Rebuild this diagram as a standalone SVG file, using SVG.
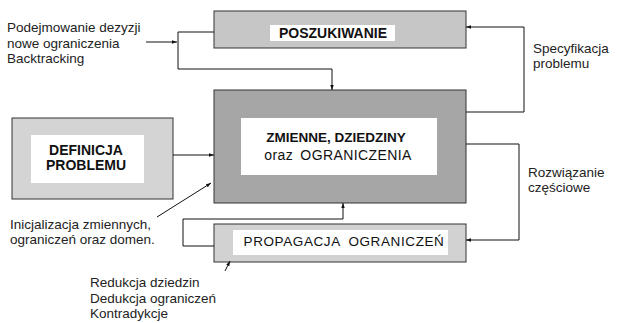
<svg xmlns="http://www.w3.org/2000/svg" width="618" height="323" viewBox="0 0 618 323">
<defs>
<marker id="ah" viewBox="0 0 10 10" refX="10" refY="5" markerWidth="5" markerHeight="5" orient="auto" markerUnits="userSpaceOnUse">
<path d="M0,1.5 L10,5 L0,8.5 Z" fill="#111"/>
</marker>
<style>
.box{stroke:#333;stroke-width:1}
.inner{fill:#fff;stroke:none}
.lbl{font-family:"Liberation Sans",Arial,sans-serif;fill:#111}
.t{font-family:"Liberation Sans",Arial,sans-serif;font-size:13.5px;fill:#222}
.c{fill:none;stroke:#111;stroke-width:1}
</style>
</defs>
<rect width="618" height="323" fill="#fff"/>

<g id="poszukiwanie">
<rect class="box" x="214" y="11" width="252" height="37" fill="#c6c6c6"/>
<rect class="inner" x="270" y="25" width="125" height="16"/>
<text class="lbl" x="333" y="37.5" text-anchor="middle" font-size="14" font-weight="bold">POSZUKIWANIE</text>
</g>

<g id="zmienne">
<rect class="box" x="214" y="90" width="252" height="113" fill="#a6a6a6"/>
<rect class="inner" x="241" y="118" width="196" height="57"/>
<text class="lbl" x="336" y="142" text-anchor="middle" font-size="13.5" font-weight="bold">ZMIENNE, DZIEDZINY</text>
<text class="lbl" x="338" y="159.5" text-anchor="middle" font-size="14" letter-spacing="0.4" word-spacing="3">oraz OGRANICZENIA</text>
</g>

<g id="definicja">
<rect class="box" x="12" y="118" width="161" height="81" fill="#d4d4d4"/>
<rect class="inner" x="31" y="135" width="113" height="48"/>
<text class="lbl" x="86" y="155" text-anchor="middle" font-size="14" font-weight="bold">DEFINICJA</text>
<text class="lbl" x="86" y="169.5" text-anchor="middle" font-size="14" font-weight="bold">PROBLEMU</text>
</g>

<g id="propagacja">
<rect class="box" x="214" y="224" width="252" height="38" fill="#d2d2d2"/>
<rect class="inner" x="233" y="230" width="215" height="25"/>
<text class="lbl" x="344" y="245.5" text-anchor="middle" font-size="13.5" letter-spacing="0.6" word-spacing="4">PROPAGACJA OGRANICZEŃ</text>
</g>

<g id="connectors">
<polyline class="c" points="214,32 178,32 178,69 332,69 332,90" marker-end="url(#ah)"/>
<line class="c" x1="146" y1="42" x2="177" y2="42" marker-end="url(#ah)"/>
<polyline class="c" points="466,112 524,112 524,27 466,27" marker-end="url(#ah)"/>
<polyline class="c" points="466,144 519,144 519,240 466,240" marker-end="url(#ah)"/>
<polyline class="c" points="214,246 183,246 183,219 343,219 343,203" marker-end="url(#ah)"/>
<line class="c" x1="173" y1="155" x2="214" y2="155" marker-end="url(#ah)"/>
<line class="c" x1="157" y1="217" x2="211" y2="183" marker-end="url(#ah)"/>
<line class="c" x1="225" y1="271" x2="230" y2="261" marker-end="url(#ah)"/>
</g>

<g id="labels">
<text class="t" x="7" y="32.3">Podejmowanie dezyzji</text>
<text class="t" x="7" y="47.8">nowe ograniczenia</text>
<text class="t" x="7" y="63.3">Backtracking</text>
<text class="t" x="533" y="52.5">Specyfikacja</text>
<text class="t" x="533" y="67.5">problemu</text>
<text class="t" x="528" y="176.5">Rozwiązanie</text>
<text class="t" x="528" y="191.5">częściowe</text>
<text class="t" x="10" y="228.5">Inicjalizacja zmiennych,</text>
<text class="t" x="10" y="243.5">ograniczeń oraz domen.</text>
<text class="t" x="90" y="287">Redukcja dziedzin</text>
<text class="t" x="90" y="303">Dedukcja ograniczeń</text>
<text class="t" x="90" y="317.5">Kontradykcje</text>
</g>
</svg>
